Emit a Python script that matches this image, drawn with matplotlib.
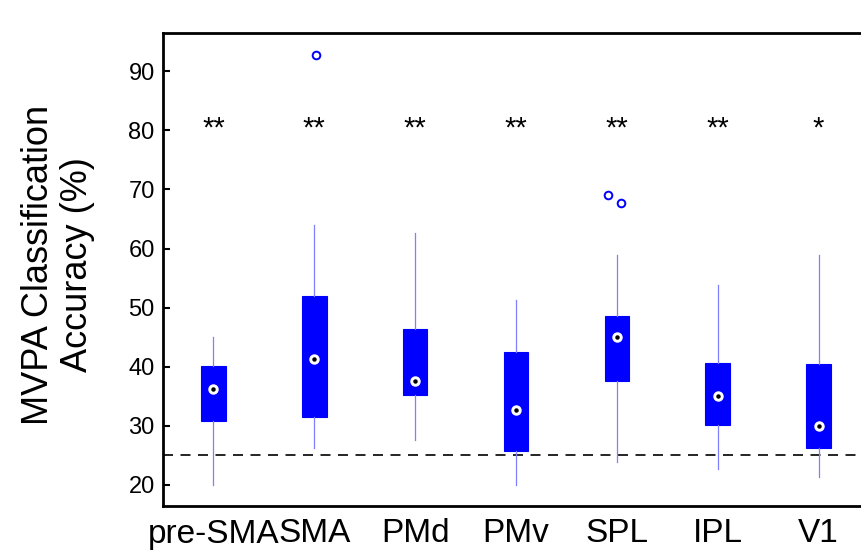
import matplotlib
matplotlib.use("Agg")
import matplotlib.pyplot as plt

plt.rcParams['font.family'] = ['Liberation Sans', 'DejaVu Sans']

regions = ['pre-SMA', 'SMA', 'PMd', 'PMv', 'SPL', 'IPL', 'V1']
whisker_low = [20.0, 26.3, 27.6, 20.0, 23.8, 22.7, 21.3]
q1 = [30.8, 31.4, 35.2, 25.7, 37.6, 30.1, 26.3]
medians = [36.2, 41.3, 37.6, 32.6, 45.1, 35.1, 30.0]
q3 = [40.1, 52.0, 46.3, 42.5, 48.5, 40.7, 40.4]
whisker_high = [45.1, 64.0, 62.6, 51.3, 58.9, 53.8, 58.9]
outliers = [[], [92.8], [], [], [69.0, 67.7], [], []]
outlier_jitter = [[], [0.02], [], [], [-0.09, 0.04], [], []]
stars = ['**', '**', '**', '**', '**', '**', '*']
star_y = 80.3
chance = 25

positions = list(range(1, len(regions) + 1))

stats = []
for i in range(len(regions)):
    stats.append({'whislo': whisker_low[i], 'q1': q1[i], 'med': medians[i],
                  'q3': q3[i], 'whishi': whisker_high[i], 'fliers': []})

fig = plt.figure(figsize=(8.61, 5.56), dpi=100)
ax = fig.add_axes([163 / 861, 50 / 556, 706 / 861, 473 / 556])

# chance level
ax.axhline(chance, color='black', lw=1.2, ls=(0, (6, 4.5)), zorder=1)

ax.bxp(stats, positions=positions, widths=0.245, patch_artist=True,
       showcaps=False, showfliers=False,
       boxprops=dict(facecolor='#0000ff', edgecolor='#0000ff', lw=0.8),
       whiskerprops=dict(color='#7f7fff', lw=0.9),
       medianprops=dict(visible=False), zorder=2)

# median: white circle with black dot
ax.plot(positions, medians, 'o', ms=6.5, mfc='white', mec='white', zorder=3)
ax.plot(positions, medians, 'o', ms=2.2, mfc='black', mec='black', zorder=4)

for i, vals in enumerate(outliers):
    xs = [positions[i] + d for d in outlier_jitter[i]]
    ax.plot(xs, vals, 'o', ms=5.5, mfc='none', mec='#0000ff', mew=1.4,
            zorder=3)

for p, s in zip(positions, stars):
    ax.text(p, star_y, s, ha='center', va='center', fontsize=21)

ax.set_xlim(0.5, 7.5)
ax.set_ylim(16.4, 96.5)
ax.set_yticks(range(20, 100, 10))
ax.set_xticks(positions)
ax.set_xticklabels(regions, fontsize=24)
ax.tick_params(axis='y', direction='in', length=5, width=1.5, labelsize=17,
               pad=6)
ax.tick_params(axis='x', length=0, pad=9)
ax.spines['right'].set_visible(False)
for side in ['left', 'top', 'bottom']:
    ax.spines[side].set_linewidth(2)

ax.set_ylabel('MVPA Classification\nAccuracy (%)', fontsize=26,
              linespacing=1.15)
ax.yaxis.set_label_coords(-0.0963, 0.51)

fig.savefig('out.png', dpi=100)
